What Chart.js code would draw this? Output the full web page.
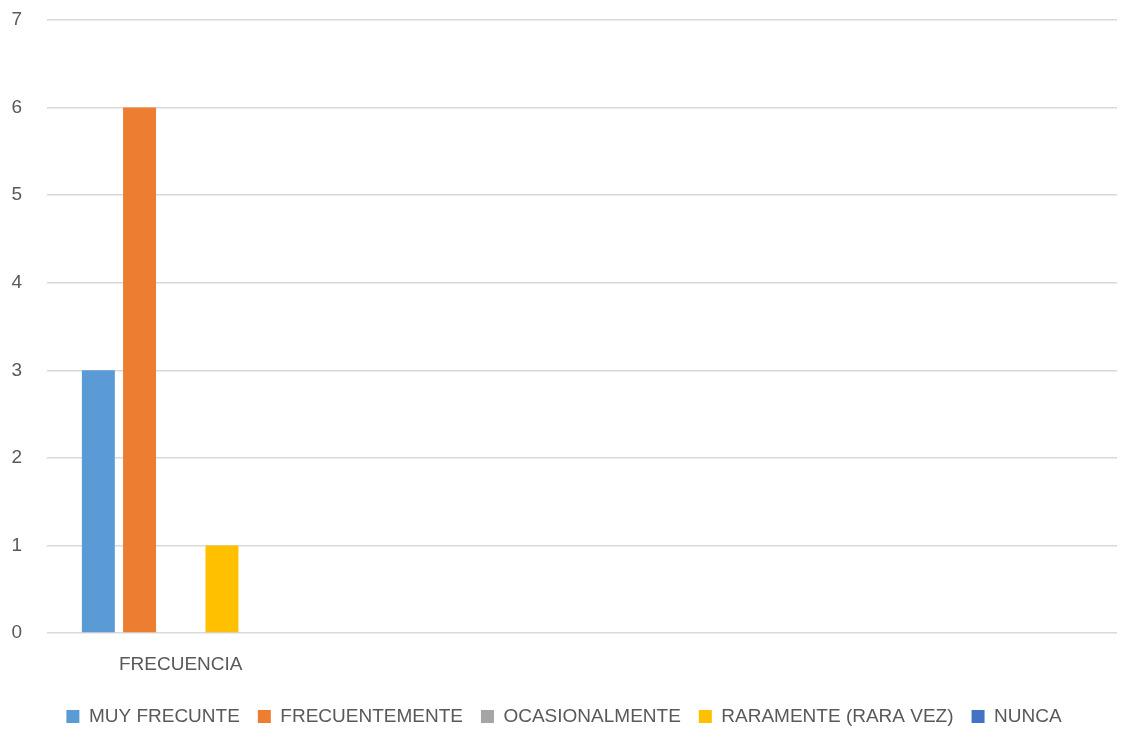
<!DOCTYPE html>
<html lang="es">
<head>
    <meta charset="UTF-8">
    <title>Frecuencia</title>
    <style>
        html, body { margin: 0; padding: 0; background: #fff; }
        #wrap { width: 1122px; height: 750px; }
    </style>
    <script src="https://cdn.jsdelivr.net/npm/chart.js"></script>
</head>
<body>
    <div id="wrap"><canvas id="chart"></canvas></div>
    <script>
        const categories = ["FRECUENCIA", "", "", ""];
        const seriesNames = ["MUY FRECUNTE", "FRECUENTEMENTE", "OCASIONALMENTE", "RARAMENTE (RARA VEZ)", "NUNCA"];
        const muyFrecunte = [3, null, null, null];
        const frecuentemente = [6, null, null, null];
        const ocasionalmente = [0, null, null, null];
        const raramente = [1, null, null, null];
        const nunca = [0, null, null, null];
        const colors = ["#5B9BD5", "#ED7D31", "#A5A5A5", "#FFC000", "#4472C4"];

        const values = [muyFrecunte, frecuentemente, ocasionalmente, raramente, nunca];
        const font = { family: "'Liberation Sans', sans-serif", size: 19 };

        new Chart(document.getElementById("chart"), {
            type: "bar",
            data: {
                labels: categories,
                datasets: seriesNames.map((name, i) => ({
                    label: name,
                    data: values[i],
                    backgroundColor: colors[i],
                    categoryPercentage: 0.77,
                    barPercentage: 0.8
                }))
            },
            options: {
                responsive: true,
                maintainAspectRatio: false,
                animation: false,
                layout: { padding: { top: 0, right: 5, left: 11, bottom: 14 } },
                plugins: {
                    tooltip: { enabled: false },
                    legend: {
                        position: "bottom",
                        labels: {
                            font: font,
                            color: "#595959",
                            boxWidth: 13,
                            boxHeight: 13,
                            padding: 18
                        }
                    }
                },
                scales: {
                    x: {
                        afterFit: (scale) => { scale.height = 56; },
                        grid: { display: false },
                        border: { display: false },
                        ticks: { font: font, color: "#595959", padding: 12 }
                    },
                    y: {
                        min: 0,
                        max: 7,
                        // keep the plot edge where the reference has it
                        afterFit: (scale) => {
                            scale.width = 36;
                            scale.paddingTop = 20;
                            scale.paddingBottom = 0;
                        },
                        ticks: { stepSize: 1, font: font, color: "#595959", padding: 25 },
                        grid: { color: "#D9D9D9", lineWidth: 1.5, drawTicks: false },
                        border: { display: false }
                    }
                }
            }
        });
    </script>
</body>
</html>
